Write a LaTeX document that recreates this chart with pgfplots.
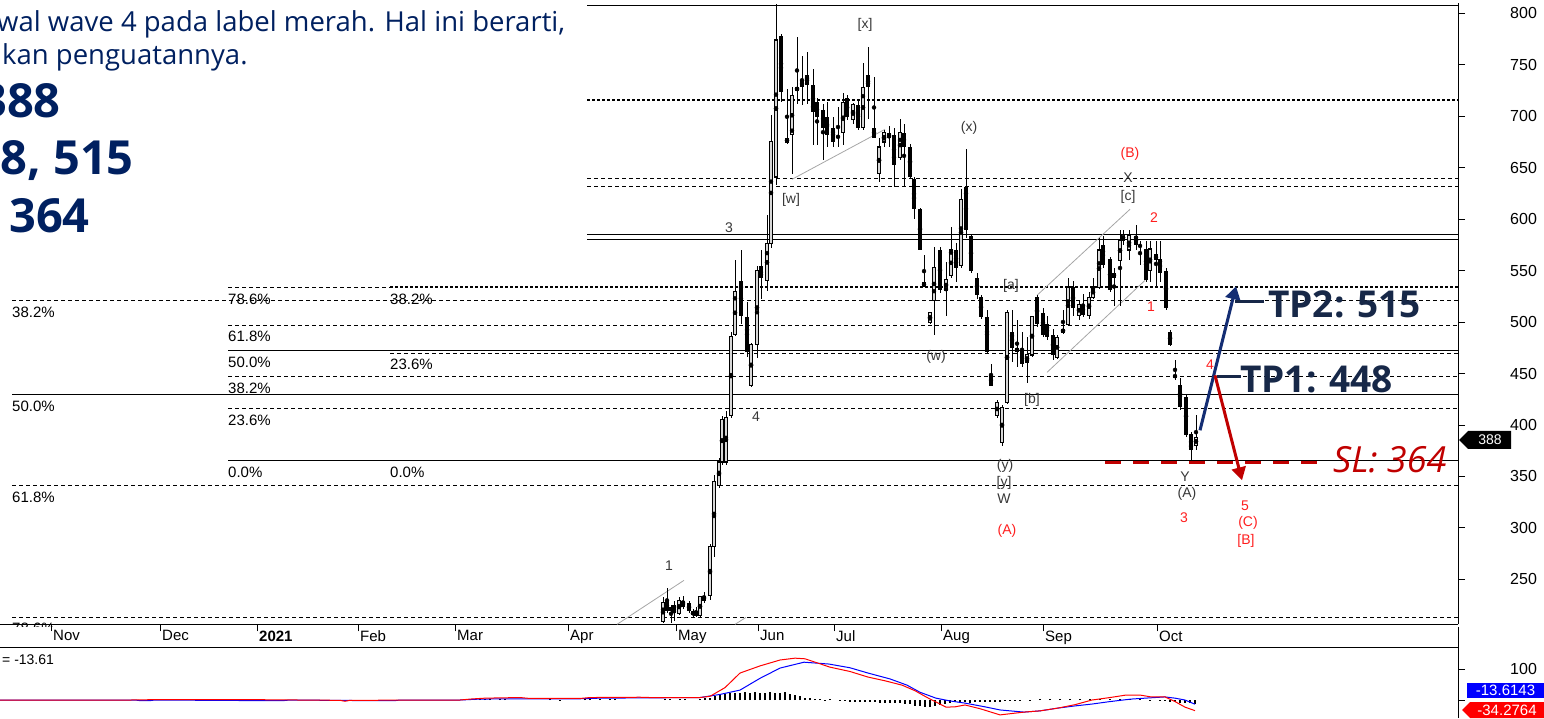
\documentclass[border=0pt]{standalone}
\usepackage{fontspec}
\setmainfont{Liberation Sans}
\newfontfamily\osans{Open Sans}
\usepackage{pgfplots}
\pgfplotsset{compat=1.18}
\usepackage{pgfplotstable}
\usetikzlibrary{arrows.meta}

\definecolor{navy}{RGB}{0,32,96}
\definecolor{tpnavy}{RGB}{23,40,72}
\definecolor{arrowblue}{RGB}{20,45,115}
\definecolor{slred}{RGB}{192,0,0}
\definecolor{wavered}{RGB}{255,30,30}
\definecolor{wavegray}{RGB}{55,55,55}
\definecolor{upfill}{RGB}{215,215,215}
\definecolor{macdblue}{RGB}{0,0,255}
\definecolor{macdred}{RGB}{255,0,0}

\tikzset{
  fdash/.style={black, line width=0.9pt, dash pattern=on 4pt off 3pt},
  fsolid/.style={black, line width=0.9pt},
  fheavy/.style={black, line width=1.8pt, dash pattern=on 3pt off 2pt},
}

% up (hollow) candles: x open high low close
\pgfplotstableread{
x o h l c
663 209 233 208 227
679 217 233 215 229
696 215 223 213 219
700 215 234 213 233
710 234 284 230 282
714 282 351 272 345
719 341 368 339 364
722 364 409 361 405
726 364 414 361 407
731 409 490 407 486
735 488 560 486 530
751 438 480 437 478
757 478 554 465 550
767 540 604 530 576
771 576 701 572 675
776 641 809 633 774
787 675 726 673 678
792 682 728 644 720
797 725 777 712 728
843 684 723 672 713
853 697 713 692 711
863 689 752 687 728
879 644 679 636 670
884 675 687 670 684
900 660 697 657 684
930 500 509 498 509
934 521 573 487 553
946 531 558 506 541
951 545 592 543 570
961 555 629 553 619
997 409 424 407 422
1002 383 419 380 417
1007 422 512 420 509
1027 461 485 441 468
1032 468 506 466 505
1057 466 487 464 485
1063 490 512 488 493
1068 498 543 497 534
1079 506 521 502 517
1089 506 529 503 524
1093 524 543 522 534
1099 534 582 532 570
1120 560 589 516 579
1123 579 589 575 585
1129 570 589 560 584
1150 550 579 539 571
1196 380 410 376 388
}\upc

% down (filled) candles
\pgfplotstableread{
x o h l c
667 230 242 217 219
671 223 225 208 219
674 225 229 209 217
683 229 234 221 223
689 227 229 217 219
693 219 221 213 215
704 234 238 227 229
741 540 570 498 506
747 505 519 466 471
761 554 570 522 543
781 778 780 714 724
802 735 759 711 728
807 740 762 712 730
813 730 746 672 704
817 714 718 672 699
823 706 712 657 689
827 699 714 670 682
833 689 699 670 675
838 681 709 670 679
847 718 721 696 699
858 711 717 687 689
868 740 767 697 728
874 689 738 679 679
889 684 691 670 679
894 682 689 631 653
904 684 692 631 670
910 670 673 639 641
914 639 641 600 610
920 610 611 570 570
924 539 565 534 534
940 570 573 528 531
956 570 577 539 553
966 631 668 582 589
971 584 586 548 550
977 543 548 522 526
981 524 526 503 505
987 505 512 469 471
991 449 459 438 438
1012 490 512 461 475
1017 475 502 456 471
1022 473 490 456 459
1037 524 526 495 498
1043 509 514 485 487
1047 498 506 483 485
1053 487 493 463 468
1073 534 540 506 514
1083 517 527 505 507
1103 575 584 553 555
1110 561 563 529 531
1114 548 553 516 543
1136 584 594 570 575
1140 575 579 555 573
1146 571 579 539 541
1156 566 579 534 560
1160 561 579 539 548
1166 550 553 512 514
1170 490 492 477 478
1175 449 463 444 446
1180 439 446 415 417
1186 427 429 388 390
1191 391 393 366 376
}\dnc

\pgfplotstableread{
x v
0 0
130 0
150 1
260 1
300 0
340 -1
345 -4
350 -1
460 0
470 3
485 6
520 8
530 5
580 5
590 8
640 9
650 8
700 8
710 12
725 40
740 87
760 110
780 129
795 135
805 133
830 106
850 92
868 74
885 62
902 48
915 30
926 10
946 -23
955 -22
965 -16
980 -28
1000 -48
1024 -39
1040 -35
1058 -26
1075 -15
1092 0
1110 8
1126 16
1140 16
1151 10
1165 10
1175 -5
1185 -23
1195 -34.3
}\macdR

\pgfplotstableread{
x v
0 0
135 0
140 -2
150 -2
155 0
263 -2
283 -2
290 0
370 -2
395 -2
400 0
460 0
480 3
510 4
530 4
580 4
600 6
650 7
700 8
720 18
740 32
760 70
780 103
804 122
829 116
850 104
868 87
890 68
907 48
920 25
936 6
950 -3
965 -10
985 -22
1000 -32
1024 -39
1040 -35
1058 -26
1075 -19
1092 -13
1110 -5
1131 3
1150 7
1165 10
1175 6
1185 0
1195 -13.6
}\macdB

\pgfplotstableread{
x v
470 3
475 4
480 3
485 3
490 2
500 2
505 2
550 2
560 1
585 3
590 3
600 3
610 2
615 2
665 2
670 2
680 2
685 2
700 3
705 5
710 8
715 12
720 16
725 20
730 22
735 22
740 24
745 25
750 24
755 25
760 23
765 22
770 25
775 24
780 22
785 25
790 20
795 16
800 12
805 8
810 5
815 3
820 2
825 1
830 2
840 -3
845 -4
850 -5
855 -6
860 -6
865 -7
870 -8
875 -8
880 -9
885 -9
890 -10
895 -10
900 -11
905 -12
910 -14
915 -18
920 -20
925 -22
930 -22
935 -20
940 -17
945 -12
950 -10
955 -8
960 -9
965 -8
970 -9
975 -7
980 -8
985 -6
990 -7
995 -5
1000 -6
1005 -4
1010 -3
1015 -2
1020 -2
1030 1
1040 2
1050 2
1060 3
1070 2
1080 3
1090 3
1100 3
1110 4
1120 4
1130 3
1140 2
1150 1
1160 -2
1165 -4
1170 -6
1175 -8
1180 -9
1185 -10
1190 -11
1195 -12
}\macdH

\newcommand\wlab[3]{\node[inner sep=0pt, text=wavegray, font=\fontsize{14}{16}\selectfont] at (#1,718-#2) {#3};}
\newcommand\wred[3]{\node[inner sep=0pt, text=wavered, font=\fontsize{14}{16}\selectfont] at (#1,718-#2) {#3};}
\newcommand\flab[3]{\node[inner sep=0pt, anchor=west, font=\fontsize{15}{17}\selectfont] at (#1,718-#2) {#3};}

\begin{document}
\begin{tikzpicture}[x=1pt,y=1pt]
\useasboundingbox (0,0) rectangle (1544,718);

\begin{axis}[
  at={(0,91)}, anchor=south west, scale only axis,
  width=1458pt, height=621pt,
  xmin=0, xmax=1458, ymin=206.2, ymax=809.7,
  axis x line*=bottom, axis y line*=right,
  axis line style={black, line width=1pt},
  clip=false,
  tick align=outside, major tick length=7pt,
  tick style={black, line width=0.8pt},
  ytick={250,300,...,800},
  /pgf/number format/assume math mode=true,
  yticklabel style={anchor=west, inner sep=0pt, xshift=45pt, font=\fontsize{16}{18}\selectfont},
  xtick={51,160,257,358,455,568,676,758,834,941,1043,1157},
  xticklabels={Nov,Dec,\textbf{2021},Feb,Mar,Apr,May,Jun,Jul,Aug,Sep,Oct},
  xticklabel style={anchor=north west, inner sep=0pt, xshift=2pt, yshift=1pt, font=\fontsize{15}{17}\selectfont},
]
% top border (visible part)
\addplot[black, line width=1pt] coordinates {(587,807.7)(1458,807.7)};
% Fibonacci / level lines
\addplot[fdash] coordinates {(12,521.1)(1458,521.1)};
\addplot[fsolid] coordinates {(12,429.7)(1458,429.7)};
\addplot[fdash] coordinates {(12,341.3)(1458,341.3)};
\addplot[fdash] coordinates {(12,213)(1458,213)};
\addplot[fdash] coordinates {(228,533.7)(390,533.7)};
\addplot[fheavy] coordinates {(390,533.7)(1458,533.7)};
\addplot[fdash] coordinates {(228,496.8)(1458,496.8)};
\addplot[fsolid] coordinates {(228,472.5)(1458,472.5)};
\addplot[fdash] coordinates {(228,447.2)(1458,447.2)};
\addplot[fdash] coordinates {(228,416.2)(1458,416.2)};
\addplot[fsolid] coordinates {(228,365.6)(1458,365.6)};
\addplot[fdash] coordinates {(390,469.6)(1458,469.6)};
\addplot[fheavy] coordinates {(587,715.4)(1458,715.4)};
\addplot[fdash] coordinates {(587,639.7)(1458,639.7)};
\addplot[fdash] coordinates {(587,631.9)(1458,631.9)};
\addplot[fsolid] coordinates {(587,585.2)(1458,585.2)};
\addplot[fsolid] coordinates {(587,580.4)(1458,580.4)};
% channel lines
\addplot[gray!70, line width=0.8pt] coordinates {(617,206.2)(684,249)};
\addplot[gray!70, line width=0.8pt] coordinates {(735,206.2)(746,213)};
\addplot[gray!70, line width=0.8pt] coordinates {(792,638.7)(885,687.3)};
\addplot[gray!70, line width=0.8pt] coordinates {(1037,526)(1130,609.6)};
\addplot[gray!70, line width=0.8pt] coordinates {(1047,451.1)(1145,540.5)};
% wicks
\addplot[only marks, mark=none, error bars/.cd, y dir=both, y explicit, error mark=none,
  error bar style={black, line width=1pt}]
  table[x=x, y expr={(\thisrow{h}+\thisrow{l})/2}, y error expr={(\thisrow{h}-\thisrow{l})/2}] {\upc};
\addplot[only marks, mark=none, error bars/.cd, y dir=both, y explicit, error mark=none,
  error bar style={black, line width=1pt}]
  table[x=x, y expr={(\thisrow{h}+\thisrow{l})/2}, y error expr={(\thisrow{h}-\thisrow{l})/2}] {\dnc};
% bodies
\addplot[only marks, mark=none, error bars/.cd, y dir=both, y explicit, error mark=none,
  error bar style={black, line width=4pt}]
  table[x=x, y expr={(\thisrow{o}+\thisrow{c})/2}, y error expr={max(abs(\thisrow{c}-\thisrow{o})/2,0.7)}] {\dnc};
\addplot[only marks, mark=none, error bars/.cd, y dir=both, y explicit, error mark=none,
  error bar style={black, line width=4.2pt}]
  table[x=x, y expr={(\thisrow{o}+\thisrow{c})/2}, y error expr={abs(\thisrow{c}-\thisrow{o})/2+0.6}] {\upc};
\addplot[only marks, mark=none, error bars/.cd, y dir=both, y explicit, error mark=none,
  error bar style={upfill, line width=2.2pt}]
  table[x=x, y expr={(\thisrow{o}+\thisrow{c})/2}, y error expr={max(abs(\thisrow{c}-\thisrow{o})/2-0.5,0.1)}] {\upc};
% trade plan arrows
\addplot[slred, line width=3.5pt, dash pattern=on 16pt off 12pt] coordinates {(1105,363.7)(1318,363.7)};
\addplot[arrowblue, line width=3pt, -{Triangle[length=13pt,width=15pt]}] coordinates {(1200,394.8)(1236,534.7)};
\addplot[slred, line width=3pt, -{Triangle[length=13pt,width=14pt]}] coordinates {(1215,448.2)(1242,346.2)};
\addplot[tpnavy, line width=3pt] coordinates {(1235,520.1)(1264,520.1)};
\addplot[tpnavy, line width=3pt] coordinates {(1217,447.2)(1241,447.2)};
\end{axis}

\begin{axis}[
  at={(0,0)}, anchor=south west, scale only axis,
  width=1458pt, height=71pt,
  xmin=0, xmax=1458, ymin=-58, ymax=171,
  axis x line*=top, axis y line*=right,
  axis line style={black, line width=1pt},
  xtick=\empty,
  tick align=outside, major tick length=7pt,
  tick style={black, line width=0.8pt},
  ytick={0,100}, yticklabels={,100},
  yticklabel style={anchor=west, inner sep=0pt, xshift=45pt, font=\fontsize{16}{18}\selectfont},
]
\addplot[ycomb, black, line width=1.2pt] table[x=x, y=v] {\macdH};
\addplot[macdblue, line width=1pt] table[x=x, y=v] {\macdB};
\addplot[macdred, line width=1pt] table[x=x, y=v] {\macdR};
\end{axis}

\draw[black, line width=1pt] (1458,70.5) -- (1458,91.5);

% Fibonacci labels
\flab{12}{312}{38.2\%}
\flab{12}{406}{50.0\%}
\flab{12}{497}{61.8\%}
\begin{scope}
\clip (0,92) rectangle (300,120);
\flab{12}{628}{78.6\%}
\end{scope}
\flab{228}{299}{78.6\%}
\flab{228}{336}{61.8\%}
\flab{228}{362}{50.0\%}
\flab{228}{388}{38.2\%}
\flab{228}{420}{23.6\%}
\flab{228}{472}{0.0\%}
\flab{390}{299}{38.2\%}
\flab{390}{364}{23.6\%}
\flab{390}{472}{0.0\%}

% wave labels
\wlab{865}{25}{[x]}
\wlab{969}{128}{(x)}
\wlab{791}{200}{[w]}
\wlab{729}{228}{3}
\wlab{756}{417}{4}
\wlab{669}{566}{1}
\wlab{936}{357}{(w)}
\wlab{1011}{286}{[a]}
\wlab{1032}{400}{[b]}
\wlab{1005}{466}{(y)}
\wlab{1004}{483}{[y]}
\wlab{1004}{499}{W}
\wlab{1128}{178}{X}
\wlab{1128}{197}{[c]}
\wlab{1185}{477}{Y}
\wlab{1187}{494}{(A)}
\wred{1130}{154}{(B)}
\wred{1154}{218}{2}
\wred{1151}{307}{1}
\wred{1210}{365}{4}
\wred{1184}{518}{3}
\wred{1245}{506}{5}
\wred{1248}{523}{(C)}
\wred{1246}{541}{[B]}
\wred{1007}{531}{(A)}

% trade plan text
\node[inner sep=0pt, anchor=base west, text=tpnavy, font=\osans\bfseries\fontsize{37}{40}\selectfont] at (1268,718-318) {TP2: 515};
\node[inner sep=0pt, anchor=base west, text=tpnavy, font=\osans\bfseries\fontsize{37}{40}\selectfont] at (1240,718-393) {TP1: 448};
\node[inner sep=0pt, anchor=base west, text=slred, font=\osans\itshape\fontsize{36}{40}\selectfont] at (1333,718-473) {SL: 364};

% price tags
\fill[black] (1459,278) -- (1468,287) -- (1511,287) -- (1511,269) -- (1468,269) -- cycle;
\node[inner sep=0pt, text=white, font=\fontsize{14}{16}\selectfont] at (1490,278) {388};
\fill[macdblue] (1467,20) rectangle (1544,35);
\node[inner sep=0pt, text=white, font=\fontsize{15}{17}\selectfont] at (1505.5,27.5) {-13.6143};
\fill[macdred] (1462,8) -- (1470,16) -- (1544,16) -- (1544,0) -- (1470,0) -- cycle;
\node[inner sep=0pt, text=white, font=\fontsize{15}{17}\selectfont] at (1507,8) {-34.2764};
\node[inner sep=0pt, anchor=west, font=\fontsize{14}{16}\selectfont] at (2,718-660) {= -13.61};

% slide text
\node[inner sep=0pt, anchor=base west, text=navy, font=\osans\fontsize{27.5}{32}\selectfont] at (-3,718-32) {wal wave 4 pada label merah. Hal ini berarti,};
\node[inner sep=0pt, anchor=base west, text=navy, font=\osans\fontsize{27.5}{32}\selectfont] at (2,718-65) {kan penguatannya.};
\node[inner sep=0pt, anchor=base east, text=navy, font=\osans\bfseries\fontsize{47}{50}\selectfont] at (61,718-118) {388};
\node[inner sep=0pt, anchor=base east, text=navy, font=\osans\bfseries\fontsize{47}{50}\selectfont] at (134,718-175) {8, 515};
\node[inner sep=0pt, anchor=base east, text=navy, font=\osans\bfseries\fontsize{47}{50}\selectfont] at (90,718-233) {364};
\end{tikzpicture}
\end{document}
